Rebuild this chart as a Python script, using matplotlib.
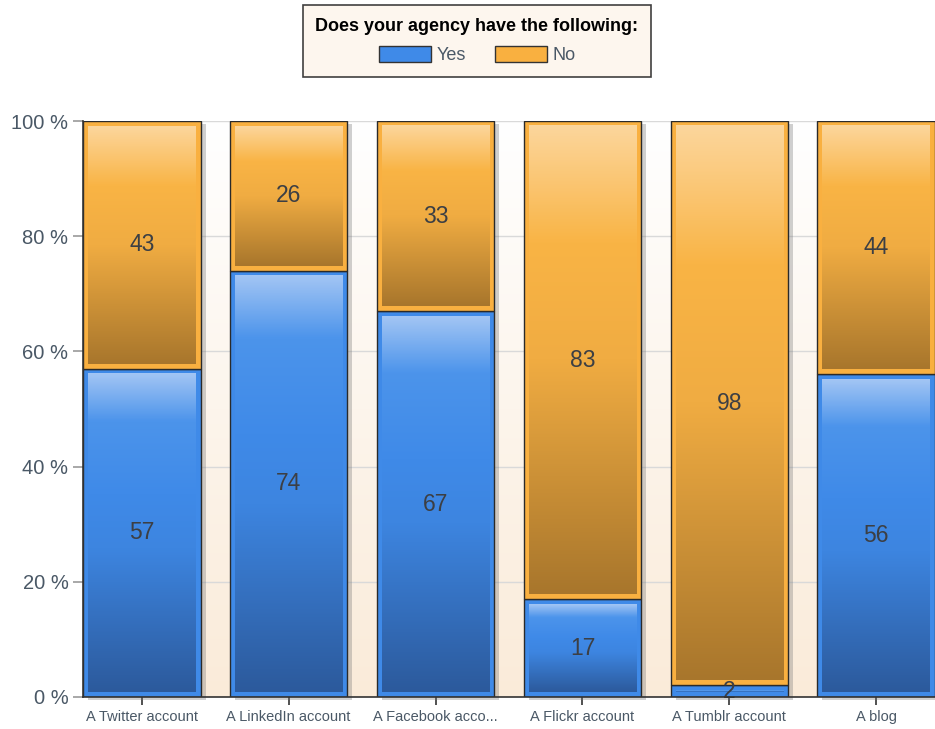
import numpy as np
import matplotlib
matplotlib.use("Agg")
import matplotlib.pyplot as plt
from matplotlib.colors import LinearSegmentedColormap
from matplotlib.patches import Rectangle, Patch

plt.rcParams['font.family'] = ['Liberation Sans', 'DejaVu Sans']

# data
categories = ['A Twitter account', 'A LinkedIn account', 'A Facebook acco...',
              'A Flickr account', 'A Tumblr account', 'A blog']
yes_vals = [57, 74, 67, 17, 2, 56]
no_vals = [43, 26, 33, 83, 98, 44]
yticks = [0, 20, 40, 60, 80, 100]

BLUE = '#3F8AE8'
ORANGE = '#F9B040'
TEXT = '#4A5866'

blue_cm = LinearSegmentedColormap.from_list('b', [
    (0.0, '#2C5A9C'), (0.45, '#3D85E0'), (0.62, '#3F8AE8'),
    (0.85, '#4C94EB'), (1.0, '#A2C5F4')])
orange_cm = LinearSegmentedColormap.from_list('o', [
    (0.0, '#A8762C'), (0.5, '#F0AC42'), (0.75, '#F9B445'), (1.0, '#FCD69C')])

fig = plt.figure(figsize=(9.35, 7.29), dpi=100)
W, H = 935, 729
ax = fig.add_axes([83 / W, 32 / H, 852 / W, 576 / H])

x = np.arange(len(categories))
bw = 0.8
xl = (-0.4, len(categories) - 0.6)
ax.set_xlim(*xl)
ax.set_ylim(0, 100)

# plot area background: white at top fading to linen at bottom
bg = LinearSegmentedColormap.from_list('bg', ['#FAEBD9', '#FFFFFF'])
grad = np.linspace(0, 1, 256).reshape(-1, 1)
ax.imshow(grad, cmap=bg, extent=[xl[0], xl[1], 0, 100], origin='lower',
          aspect='auto', zorder=0)

ax.set_yticks(yticks)
ax.yaxis.grid(True, color='#D9D9D9', linewidth=1, zorder=1)
ax.set_axisbelow(True)

# pixel sizes in data units
px_x = 1 / 147.0
px_y = 100 / 576.0


def draw_segment(xc, y0, h, cmap, base):
    x0 = xc - bw / 2
    # drop shadow
    ax.add_patch(Rectangle((x0 + 5 * px_x, y0 - 3 * px_y), bw, h,
                           facecolor='#7a7a7a', alpha=0.35, edgecolor='none',
                           zorder=2, clip_on=False))
    ax.add_patch(Rectangle((x0, y0), bw, h, facecolor=base,
                           edgecolor='#2a2a2a', linewidth=1.0, zorder=3))
    ix, iy = 5 * px_x, 5 * px_y
    if h > 2 * iy:
        ax.imshow(grad, cmap=cmap, origin='lower', aspect='auto',
                  extent=[x0 + ix, x0 + bw - ix, y0 + iy, y0 + h - iy],
                  zorder=4)


for i in range(len(categories)):
    draw_segment(x[i], 0, yes_vals[i], blue_cm, BLUE)
    draw_segment(x[i], yes_vals[i], no_vals[i], orange_cm, ORANGE)
    ax.text(x[i], yes_vals[i] / 2, str(yes_vals[i]), ha='center', va='center',
            fontsize=16.5, color='#3c3f44', zorder=6)
    ax.text(x[i], yes_vals[i] + no_vals[i] / 2, str(no_vals[i]), ha='center',
            va='center', fontsize=16.5, color='#3c3f44', zorder=6)

ax.set_xlim(*xl)
ax.set_ylim(0, 100)
ax.set_xticks(x)
ax.set_xticklabels(categories, fontsize=10.5, color=TEXT)
ax.set_yticklabels([f'{v} %' for v in yticks], fontsize=14.5, color=TEXT)
ax.tick_params(axis='both', length=6, width=1.2, color='#333333')
ax.tick_params(axis='y', color='#999999', length=7)
for s in ['top', 'right']:
    ax.spines[s].set_visible(False)
for s in ['left', 'bottom']:
    ax.spines[s].set_color('#333333')
    ax.spines[s].set_linewidth(1.2)
    ax.spines[s].set_zorder(7)

handles = [Patch(facecolor=BLUE, edgecolor='#333333', label='Yes'),
           Patch(facecolor=ORANGE, edgecolor='#333333', label='No')]
leg = fig.legend(handles=handles, loc='upper center', ncol=2,
                 bbox_to_anchor=(477 / W, 1 - 5 / H),
                 title='Does your agency have the following:',
                 title_fontproperties={'weight': 'bold', 'size': 13},
                 fontsize=13, frameon=True, fancybox=False,
                 handlelength=2.9, handleheight=1.0, columnspacing=1.6,
                 handletextpad=0.3, borderpad=0.7, borderaxespad=0)
leg.get_frame().set_edgecolor('#111111')
leg.get_frame().set_linewidth(1.2)
leg.get_frame().set_facecolor('#FDF4EA')
leg._legend_box.sep = 8
for t in leg.get_texts():
    t.set_color(TEXT)

fig.savefig('out.png', dpi=100)
